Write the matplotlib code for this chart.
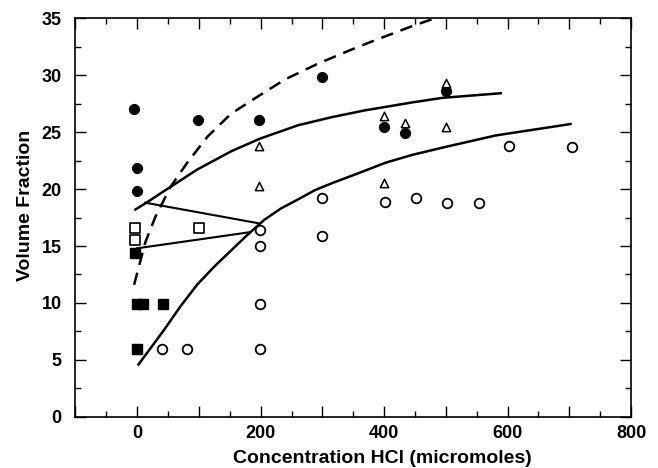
import matplotlib
matplotlib.use("Agg")
import matplotlib.pyplot as plt
from matplotlib.ticker import MultipleLocator

plt.rcParams['font.family'] = ['Liberation Sans', 'DejaVu Sans']

# Data series
filled_circle_x = [-5, 0, 0, 98, 198, 299, 400, 434, 501]
filled_circle_y = [27.0, 21.8, 19.8, 26.05, 26.05, 29.8, 25.4, 24.9, 28.6]

open_triangle_x = [198, 198, 400, 434, 501, 400, 501]
open_triangle_y = [23.8, 20.3, 26.4, 25.8, 29.3, 20.5, 25.4]

open_circle_x = [40, 80, 199, 199, 199, 199, 300, 300, 401, 451, 502, 553, 602, 704]
open_circle_y = [6.0, 6.0, 6.0, 9.9, 15.0, 16.4, 15.9, 19.2, 18.9, 19.2, 18.8, 18.8, 23.8, 23.7]

open_square_x = [-3, -3, 100]
open_square_y = [16.6, 15.5, 16.6]

filled_square_x = [-4, 0, 10, 41, 0]
filled_square_y = [14.4, 9.9, 9.9, 9.9, 6.0]

dashed_x = [-5, 13, 29, 54, 81, 114, 152, 195, 239, 293, 359, 441, 483]
dashed_y = [11.6, 15.3, 17.5, 20.2, 22.3, 24.6, 26.6, 28.1, 29.6, 31.0, 32.5, 34.2, 35.0]

upper_x = [-3, 15, 43, 97, 152, 198, 261, 315, 369, 446, 495, 589]
upper_y = [18.2, 18.8, 19.8, 21.7, 23.3, 24.4, 25.6, 26.3, 26.9, 27.6, 28.0, 28.4]

lower_x = [2, 43, 70, 97, 125, 152, 179, 206, 233, 261, 288, 315, 364, 402, 446, 500, 581, 702]
lower_y = [4.6, 7.6, 9.7, 11.6, 13.2, 14.6, 16.0, 17.3, 18.3, 19.1, 19.9, 20.5, 21.5, 22.3, 23.0, 23.7, 24.7, 25.7]

tie_a_x = [13, 196]
tie_a_y = [18.8, 17.0]
tie_b_x = [0, 181]
tie_b_y = [14.8, 16.2]

x_ticks = [0, 200, 400, 600, 800]
y_ticks = [0, 5, 10, 15, 20, 25, 30, 35]

fig = plt.figure(figsize=(6.58, 4.68), dpi=100)
ax = fig.add_axes([0.1147, 0.109, 0.8443, 0.8525])

lw = 1.8
ax.plot(dashed_x, dashed_y, color='black', lw=lw, linestyle=(0, (5, 3.2)))
ax.plot(upper_x, upper_y, color='black', lw=lw)
ax.plot(lower_x, lower_y, color='black', lw=lw)
ax.plot(tie_a_x, tie_a_y, color='black', lw=1.5)
ax.plot(tie_b_x, tie_b_y, color='black', lw=1.5)

ax.scatter(filled_circle_x, filled_circle_y, s=50, marker='o', facecolor='black', edgecolor='black', zorder=3)
ax.scatter(open_circle_x, open_circle_y, s=48, marker='o', facecolor='white', edgecolor='black', linewidths=1.3, zorder=3)
ax.scatter(open_triangle_x, open_triangle_y, s=36, marker='^', facecolor='white', edgecolor='black', linewidths=1.1, zorder=3)
ax.scatter(open_square_x, open_square_y, s=42, marker='s', facecolor='white', edgecolor='black', linewidths=1.2, zorder=3)
ax.scatter(filled_square_x, filled_square_y, s=46, marker='s', facecolor='black', edgecolor='black', zorder=3)

ax.set_xlim(-100, 800)
ax.set_ylim(0, 35)
ax.xaxis.set_major_locator(MultipleLocator(100))
ax.xaxis.set_minor_locator(MultipleLocator(50))
ax.yaxis.set_major_locator(MultipleLocator(5))
ax.yaxis.set_minor_locator(MultipleLocator(2.5))
ax.xaxis.set_major_formatter(plt.FuncFormatter(lambda v, p: f"{int(round(v))}" if int(round(v)) in x_ticks else ""))
ax.yaxis.set_major_formatter(plt.FuncFormatter(lambda v, p: f"{int(round(v))}" if int(round(v)) in y_ticks else ""))

ax.tick_params(which='both', direction='in', top=True, right=True, width=1.0, color='black')
ax.tick_params(which='major', length=8, labelsize=13)
ax.tick_params(axis='x', which='major', pad=6)
ax.tick_params(axis='y', which='major', pad=10)
ax.tick_params(which='minor', length=4.5)
for lbl in ax.get_xticklabels() + ax.get_yticklabels():
    lbl.set_fontweight('bold')
for s in ax.spines.values():
    s.set_linewidth(1.2)

ax.set_xlabel('Concentration HCl (micromoles)', fontsize=14, fontweight='bold')
ax.set_ylabel('Volume Fraction', fontsize=14, fontweight='bold')
ax.xaxis.set_label_coords(0.552, -0.082)
ax.yaxis.set_label_coords(-0.075, 0.53)

fig.savefig('out.png', dpi=100)
